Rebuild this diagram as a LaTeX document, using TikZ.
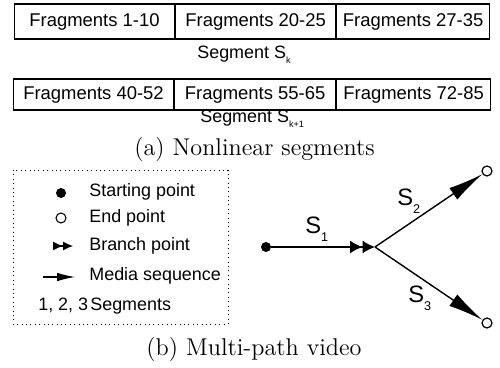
\documentclass[tikz,border=0pt]{standalone}
\usepackage{fontspec}
\newfontfamily\arialfont{Liberation Sans}
\usepackage{tikz}
\usetikzlibrary{arrows.meta, positioning}
\tikzstyle{fragBox} = [rectangle, draw=black, line width=0.6pt, minimum height=0.7cm, inner sep=0pt, text centered, font=\arialfont\fontsize{10.5}{12}\selectfont]
\tikzstyle{txt} = [inner sep=0pt, font=\arialfont\fontsize{10.2}{12}\selectfont]
\tikzstyle{segName} = [inner sep=0pt, font=\arialfont\fontsize{13.5}{15}\selectfont]
\tikzstyle{caption} = [inner sep=0pt, font=\fontsize{13.8}{16}\selectfont]
\tikzstyle{solidNode} = [circle, minimum size=0.2cm, inner sep=0pt, fill=black]
\tikzstyle{openNode} = [circle, minimum size=0.2cm, inner sep=0pt, draw=black, line width=0.7pt, fill=white]
\tikzstyle{seqArrow} = [line width=0.8pt, -{Latex[length=0.7cm, width=0.28cm]}]
\tikzstyle{branchArrow} = [line width=0.8pt, -{Latex[length=0.25cm, width=0.26cm]Latex[length=0.25cm, width=0.26cm]}]
\newcommand{\lowsub}[3]{\raisebox{-#2}{\fontsize{#1}{#1}\selectfont #3}}

\begin{document}
\begin{tikzpicture}
    \useasboundingbox (0,0) rectangle (10,-7.34);
    % (a) nonlinear segments
    \node (f1) [fragBox, minimum width=3.2cm, anchor=west] at (0.28,-0.43) {Fragments 1-10};
    \node (f2) [fragBox, minimum width=3.2cm, right=0cm of f1] {Fragments 20-25};
    \node (f3) [fragBox, minimum width=3.06cm, right=0cm of f2] {Fragments 27-35};
    \node (sk) [txt, anchor=base west] at (3.94,-1.18) {Segment S\lowsub{5.2pt}{2.3pt}{k}};
    \node (g1) [fragBox, minimum width=3.2cm, minimum height=0.62cm, anchor=west] at (0.26,-1.89) {Fragments 40-52};
    \node (g2) [fragBox, minimum width=3.22cm, minimum height=0.62cm, right=0cm of g1] {Fragments 55-65};
    \node (g3) [fragBox, minimum width=3.08cm, minimum height=0.62cm, right=0cm of g2] {Fragments 72-85};
    \node (sk1) [txt, anchor=base west] at (4.0,-2.46) {Segment S\lowsub{5.2pt}{2.3pt}{k+1}};
    \node (capa) [caption, anchor=base] at (5.09,-3.12) {(a) Nonlinear segments};

    % (b) legend
    \draw [dotted, line width=0.5pt] (0.26,-3.4) rectangle (4.56,-6.48);
    \node (ls) [solidNode] at (1.22,-3.86) {};
    \node (le) [openNode, line width=0.6pt] at (1.22,-4.36) {};
    \coordinate (lb1) at (1.06,-4.92);
    \coordinate (lb2) at (1.46,-4.92);
    \draw [line width=0.6pt, -{Latex[length=0.2cm, width=0.18cm]Latex[length=0.2cm, width=0.18cm]}] (lb1) -- (lb2);
    \coordinate (lm1) at (0.86,-5.54);
    \coordinate (lm2) at (1.5,-5.54);
    \draw [line width=0.6pt, -{Latex[length=0.36cm, width=0.17cm]}] (lm1) -- (lm2);
    \node (t1) [txt, anchor=base west] at (1.78,-3.94) {Starting point};
    \node (t2) [txt, anchor=base west] at (1.78,-4.45) {End point};
    \node (t3) [txt, anchor=base west] at (1.78,-5.0) {Branch point};
    \node (t4) [txt, anchor=base west] at (1.78,-5.6) {Media sequence};
    \node (t5) [txt, anchor=base west] at (1.8,-6.2) {Segments};
    \node (t6) [txt, anchor=base east] at (1.77,-6.2) {1, 2, 3};

    % (b) multi-path video
    \node (start) [solidNode] at (5.32,-4.94) {};
    \coordinate (branch) at (7.5,-4.94);
    \node (end1) [openNode] at (9.74,-3.42) {};
    \node (end2) [openNode] at (9.74,-6.46) {};
    \draw [branchArrow] (start) -- (branch);
    \draw [seqArrow] (branch) -- (end1);
    \draw [seqArrow] (branch) -- (end2);
    \node (s1) [segName, anchor=base west] at (6.1,-4.66) {S\lowsub{7.2pt}{5pt}{1}};
    \node (s2) [segName, anchor=base west] at (7.94,-4.1) {S\lowsub{7.2pt}{5pt}{2}};
    \node (s3) [segName, anchor=base west] at (8.16,-6.04) {S\lowsub{7.2pt}{5pt}{3}};
    \node (capb) [caption, anchor=base] at (5.08,-7.1) {(b) Multi-path video};
\end{tikzpicture}
\end{document}
